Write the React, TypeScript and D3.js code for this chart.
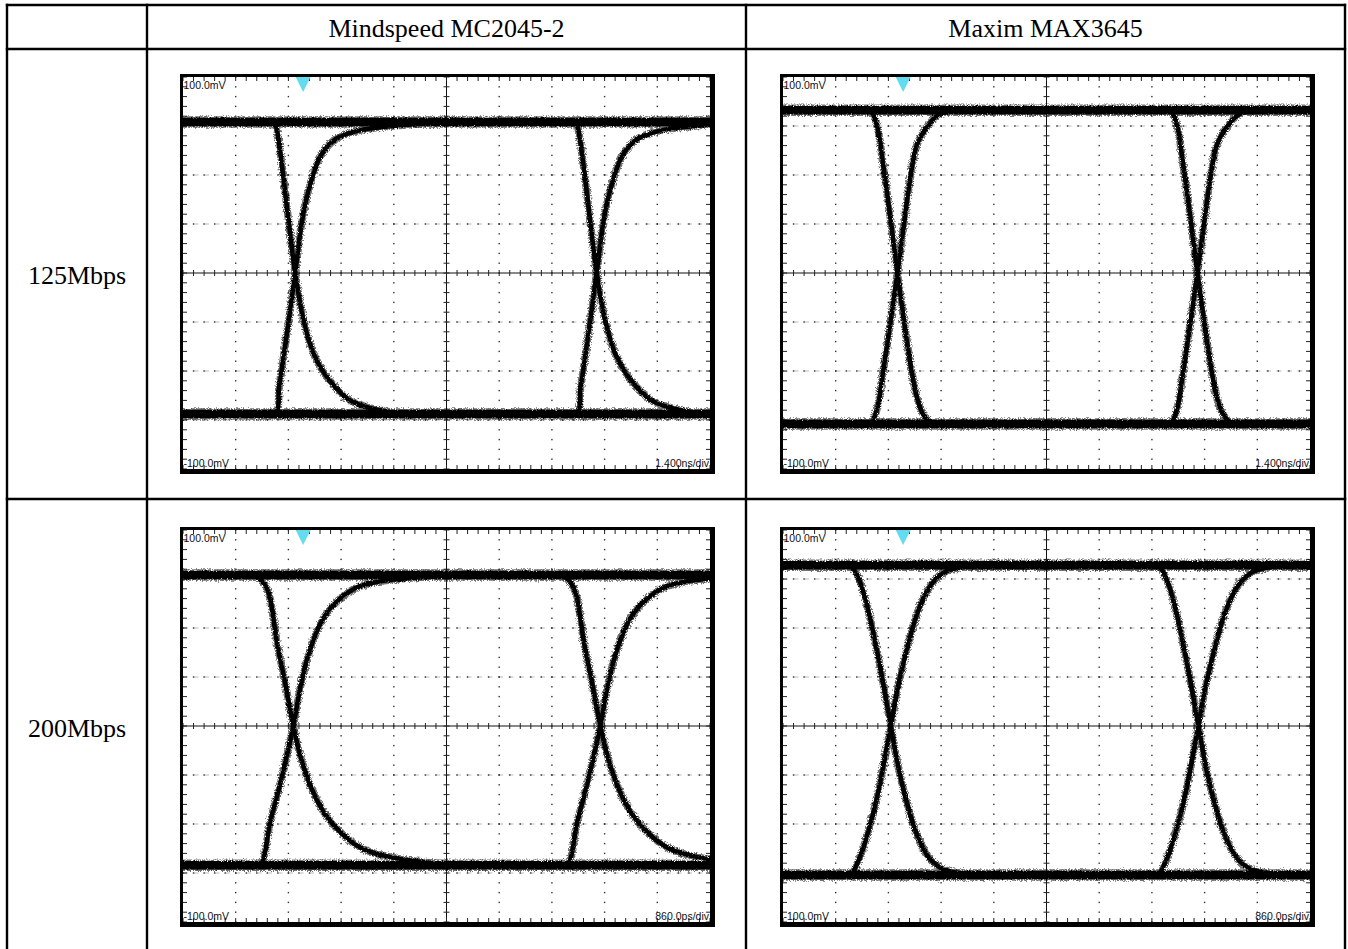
import React from "react";
import * as d3 from "d3";

type Pt = [number, number];

// ---- table text ----
const columnLabels = ["Mindspeed MC2045-2", "Maxim MAX3645"];
const rowLabels = ["125Mbps", "200Mbps"];
const timebaseLabels = ["1.400ns/div", "860.0ps/div"];
const nsPerDiv = [1.4, 0.86];
const voltTopLabel = "100.0mV";
const voltBottomLabel = "-100.0mV";
const mvRange = [-100, 100];
const hDivs = 10;
const vDivs = 8;

// ---- Mindspeed MC2045-2 @ 125Mbps (ns relative to crossing, mV) ----
const ms125Levels = [77, -72];
const ms125Crossings = [2.98, 10.99];
const ms125Fall: Pt[] = [[-0.9, 77], [-0.62, 76.5], [-0.52, 75], [-0.45, 68.6], [-0.33, 51.7], [0, 0], [0.23, -24.6], [0.5, -41.5], [0.92, -55], [1.46, -65], [2.01, -69], [2.56, -71], [3.2, -72]];
const ms125Rise: Pt[] = [[-0.9, -72], [-0.6, -71.5], [-0.48, -70.3], [-0.43, -58.5], [-0.36, -50], [0, 0], [0.18, 26.3], [0.37, 43.2], [0.69, 60.2], [1.1, 68.6], [1.74, 72.9], [2.84, 75.4], [4.03, 76.8], [5.0, 77]];

// ---- Maxim MAX3645 @ 125Mbps ----
const mx125Levels = [83, -77];
const mx125Crossings = [3.04, 11.01];
const mx125Fall: Pt[] = [[-1.0, 83], [-0.8, 83], [-0.68, 82], [-0.525, 73.8], [-0.394, 57.2], [-0.2, 30], [0, 0], [0.2, -28], [0.394, -52], [0.525, -64], [0.68, -72], [0.87, -76], [1.2, -77], [1.6, -77]];
const mx125Rise: Pt[] = [[-1.0, -77], [-0.8, -77], [-0.68, -76], [-0.525, -68], [-0.394, -52], [-0.2, -27], [0, 0], [0.2, 29], [0.315, 45], [0.525, 65.8], [0.84, 75.9], [1.1, 80.9], [1.63, 83], [2.0, 83]];

// ---- Mindspeed MC2045-2 @ 200Mbps ----
const ms200Levels = [77, -71];
const ms200Crossings = [1.8, 6.81];
const ms200Fall: Pt[] = [[-0.9, 77], [-0.65, 76.8], [-0.551, 75.4], [-0.41, 68.6], [-0.27, 43.2], [-0.129, 21.2], [0, 0], [0.124, -16.1], [0.292, -31.4], [0.517, -44.9], [0.798, -55.1], [1.135, -62.7], [1.585, -66.9], [2.147, -69.5], [2.709, -70.7], [3.3, -71]];
const ms200Rise: Pt[] = [[-0.9, -71], [-0.62, -70.8], [-0.523, -70.2], [-0.382, -49.8], [-0.214, -29.5], [0, 0], [0.124, 21.2], [0.264, 38.1], [0.461, 53.4], [0.742, 64.4], [1.079, 71.2], [1.472, 74.1], [2.034, 75.8], [2.6, 76.8], [3.2, 77]];

// ---- Maxim MAX3645 @ 200Mbps ----
const mx200Levels = [82, -76];
const mx200Crossings = [1.76, 6.78];
const mx200Fall: Pt[] = [[-0.95, 82], [-0.75, 82], [-0.646, 81.4], [-0.506, 73.7], [-0.365, 58.5], [-0.225, 38.1], [-0.112, 19.5], [0, 0], [0.112, -19.5], [0.253, -38.1], [0.422, -55.1], [0.618, -67], [0.843, -72.9], [1.124, -75.1], [1.517, -76], [1.9, -76]];
const mx200Rise: Pt[] = [[-0.95, -76], [-0.75, -76], [-0.646, -75.4], [-0.506, -67], [-0.365, -53.4], [-0.225, -36.4], [-0.112, -18.6], [0, 0], [0.112, 19.5], [0.253, 38.1], [0.422, 56.8], [0.618, 70.3], [0.843, 77.9], [1.124, 80.8], [1.517, 82], [1.9, 82]];

interface Panel { row: number; col: number; levels: number[]; crossings: number[]; fall: Pt[]; rise: Pt[]; }
const panels: Panel[] = [
  { row: 0, col: 0, levels: ms125Levels, crossings: ms125Crossings, fall: ms125Fall, rise: ms125Rise },
  { row: 0, col: 1, levels: mx125Levels, crossings: mx125Crossings, fall: mx125Fall, rise: mx125Rise },
  { row: 1, col: 0, levels: ms200Levels, crossings: ms200Crossings, fall: ms200Fall, rise: ms200Rise },
  { row: 1, col: 1, levels: mx200Levels, crossings: mx200Crossings, fall: mx200Fall, rise: mx200Rise },
];

// ---- layout ----
const W = 1348, H = 949;
const tableX = [7, 147, 746, 1345];
const tableY = [5, 49, 499];
const FRAME_X = 180, FRAME_Y = 74, FRAME_W = 535, FRAME_H = 400;
const PL = 3, PT = 3, PR = 5, PB = 5;
const COL_OFF = 600, ROW_OFF = 453;
const sans = "Liberation Sans, Arial, sans-serif";

function Scope({ p, idx }: { p: Panel; idx: number }) {
  const fx = FRAME_X + p.col * COL_OFF;
  const fy = FRAME_Y + p.row * ROW_OFF;
  const x0 = fx + PL, x1 = fx + FRAME_W - PR;
  const y0 = fy + PT, y1 = fy + FRAME_H - PB;
  const tMax = hDivs * nsPerDiv[p.row];
  const x = d3.scaleLinear().domain([0, tMax]).range([x0, x1]);
  const y = d3.scaleLinear().domain(mvRange).range([y1, y0]);
  const xd = d3.scaleLinear().domain([0, hDivs]).range([x0, x1]);
  const yd = d3.scaleLinear().domain([0, vDivs]).range([y0, y1]);
  const line = d3.line<Pt>().x(d => x(d[0])).y(d => y(d[1])).curve(d3.curveCatmullRom.alpha(0.5));

  const minorX = d3.range(0, hDivs * 5 + 1).map(i => xd(i / 5));
  const minorY = d3.range(0, vDivs * 5 + 1).map(i => yd(i / 5));
  const clipId = `clip${idx}`;
  const cx = xd(hDivs / 2), cy = yd(vDivs / 2);

  const paths: { d: string; w: number }[] = [];
  p.levels.forEach(lv => paths.push({ d: line([[-1, lv], [tMax + 1, lv]]) || "", w: 8.5 }));
  p.crossings.forEach(c => {
    paths.push({ d: line(p.fall.map(([t, v]) => [c + t, v] as Pt)) || "", w: 4.6 });
    paths.push({ d: line(p.rise.map(([t, v]) => [c + t, v] as Pt)) || "", w: 4.6 });
  });

  return (
    <g>
      <rect x={fx} y={fy} width={FRAME_W} height={FRAME_H} fill="#000" />
      <rect x={x0} y={y0} width={x1 - x0} height={y1 - y0} fill="#fff" />
      <clipPath id={clipId}><rect x={x0} y={y0} width={x1 - x0} height={y1 - y0} /></clipPath>
      <g clipPath={`url(#${clipId})`}>
        {/* horizontal dotted grid */}
        {d3.range(1, vDivs).filter(j => j !== vDivs / 2).map(j => (
          <g key={`h${j}`}>
            <line x1={x0} x2={x1} y1={yd(j)} y2={yd(j)} stroke="#d2d2d2" strokeWidth={1.3} strokeDasharray="5 5.5" />
            {minorX.map((mx, k) => <rect key={k} x={mx - 0.7} y={yd(j) - 0.7} width={1.4} height={1.4} fill="#333" />)}
          </g>
        ))}
        {/* vertical dotted grid */}
        {d3.range(1, hDivs).filter(i => i !== hDivs / 2).map(i => (
          <g key={`v${i}`}>
            {minorY.map((my, k) => <rect key={k} x={xd(i) - 0.7} y={my - 0.7} width={1.4} height={1.4} fill="#333" />)}
          </g>
        ))}
        {/* center cross */}
        <line x1={x0} x2={x1} y1={cy} y2={cy} stroke="#111" strokeWidth={1} />
        <line x1={cx} x2={cx} y1={y0} y2={y1} stroke="#111" strokeWidth={1} />
        {minorX.map((mx, k) => <line key={`cx${k}`} x1={mx} x2={mx} y1={cy - 3} y2={cy + 3} stroke="#222" strokeWidth={1} />)}
        {minorY.map((my, k) => <line key={`cy${k}`} x1={cx - 3} x2={cx + 3} y1={my} y2={my} stroke="#222" strokeWidth={1} />)}
        {/* edge ticks */}
        {minorX.map((mx, k) => (
          <g key={`ex${k}`}>
            <line x1={mx} x2={mx} y1={y0} y2={y0 + 4} stroke="#222" strokeWidth={1} />
            <line x1={mx} x2={mx} y1={y1 - 4} y2={y1} stroke="#222" strokeWidth={1} />
          </g>
        ))}
        {minorY.map((my, k) => (
          <g key={`ey${k}`}>
            <line x1={x0} x2={x0 + 4} y1={my} y2={my} stroke="#222" strokeWidth={1} />
            <line x1={x1 - 4} x2={x1} y1={my} y2={my} stroke="#222" strokeWidth={1} />
          </g>
        ))}
        {/* traces: scattered halo + dense core */}
        <g filter="url(#scatter)" opacity={0.55}>
          {paths.map((pp, k) => <path key={`s${k}`} d={pp.d} fill="none" stroke="#000" strokeWidth={pp.w + 3} />)}
        </g>
        <g filter="url(#fuzz)">
          {paths.map((pp, k) => <path key={`p${k}`} d={pp.d} fill="none" stroke="#050505" strokeWidth={pp.w} />)}
        </g>
        {/* trigger marker */}
        <path d={`M${xd(2.28) - 7.5},${y0} L${xd(2.28) + 7.5},${y0} L${xd(2.28)},${y0 + 15} Z`} fill="#63dcef" />
      </g>
      <text x={x0 + 0.5} y={y0 + 12} fontFamily={sans} fontSize={10.5} fill="#111">{voltTopLabel}</text>
      <text x={x0 + 0.5} y={y1 - 2} fontFamily={sans} fontSize={10.5} fill="#111">{voltBottomLabel}</text>
      <text x={x1 - 1} y={y1 - 2} textAnchor="end" fontFamily={sans} fontSize={10.5} fill="#111">{timebaseLabels[p.row]}</text>
    </g>
  );
}

export default function App() {
  const serif = "Liberation Serif, Times New Roman, serif";
  return (
    <svg width={W} height={H} viewBox={`0 0 ${W} ${H}`} style={{ position: "absolute", left: 0, top: 0, display: "block", background: "#fff" }}>
      <defs>
        <filter id="fuzz" filterUnits="userSpaceOnUse" x={0} y={0} width={W} height={H}>
          <feTurbulence type="fractalNoise" baseFrequency="0.8" numOctaves={2} seed={4} result="t" />
          <feDisplacementMap in="SourceGraphic" in2="t" scale={3} xChannelSelector="R" yChannelSelector="G" />
        </filter>
        <filter id="scatter" filterUnits="userSpaceOnUse" x={0} y={0} width={W} height={H}>
          <feTurbulence type="fractalNoise" baseFrequency="1.6" numOctaves={1} seed={9} result="n" />
          <feDisplacementMap in="SourceGraphic" in2="n" scale={6} xChannelSelector="R" yChannelSelector="G" result="d" />
          <feComponentTransfer in="n" result="mask">
            <feFuncA type="discrete" tableValues="0 0 1 1 1" />
          </feComponentTransfer>
          <feComposite in="d" in2="mask" operator="in" />
        </filter>
      </defs>
      <rect x={0} y={0} width={W} height={H} fill="#fff" />
      {/* table grid */}
      {tableY.map((ty, i) => <line key={`ty${i}`} x1={tableX[0] - 1.2} x2={tableX[3] + 1.2} y1={ty} y2={ty} stroke="#000" strokeWidth={2.4} />)}
      {tableX.map((tx, i) => <line key={`tx${i}`} x1={tx} x2={tx} y1={tableY[0] - 1.2} y2={H + 5} stroke="#000" strokeWidth={2.4} />)}
      {/* headers */}
      {columnLabels.map((c, i) => (
        <text key={c} x={(tableX[i + 1] + tableX[i + 2]) / 2} y={36.5} textAnchor="middle" fontFamily={serif} fontSize={26} fill="#000">{c}</text>
      ))}
      {rowLabels.map((r, i) => (
        <text key={r} x={(tableX[0] + tableX[1]) / 2} y={284 + i * ROW_OFF} textAnchor="middle" fontFamily={serif} fontSize={26} fill="#000">{r}</text>
      ))}
      {panels.map((p, i) => <Scope key={i} p={p} idx={i} />)}
    </svg>
  );
}
